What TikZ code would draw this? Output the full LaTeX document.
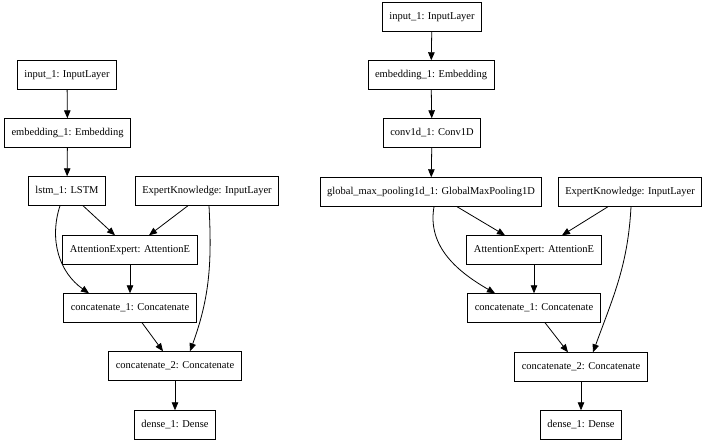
\documentclass[tikz,border=0pt]{standalone}
\usepackage{fontspec}
\setmainfont{Liberation Serif}
\usetikzlibrary{arrows.meta, positioning}

\begin{document}
\begin{tikzpicture}[x=1pt, y=-1pt,
    layer/.style={draw, line width=0.9pt, inner xsep=7pt, inner ysep=0pt, minimum height=28.5pt, font=\fontsize{10.5}{12}\selectfont},
    flow/.style={-{Triangle[length=8pt, width=6.5pt]}, line width=0.8pt}]
    \useasboundingbox (0,0) rectangle (708,443);

    % LSTM model
    \node[layer] (inL)     at (67,75)   {input\_1: InputLayer};
    \node[layer] (embL)    at (67.5,133) {embedding\_1: Embedding};
    \node[layer] (lstmL)   at (67,191)  {lstm\_1: LSTM};
    \node[layer] (expL)    at (207,191) {ExpertKnowledge: InputLayer};
    \node[layer] (attL)    at (130,250) {AttentionExpert: AttentionE};
    \node[layer] (cataL)   at (130,308) {concatenate\_1: Concatenate};
    \node[layer] (catbL)   at (175,366) {concatenate\_2: Concatenate};
    \node[layer] (denseL)  at (175,425) {dense\_1: Dense};

    \draw[flow] (inL) -- (embL);
    \draw[flow] (embL) -- (lstmL);
    \draw[flow] ([xshift=16pt]lstmL.south) -- ([xshift=-15pt]attL.north);
    \draw[flow] ([xshift=-19pt]expL.south) -- ([xshift=19pt]attL.north);
    \draw[flow] ([xshift=-7pt]lstmL.south) to[out=-108, in=145] ([xshift=-41pt]cataL.north);
    \draw[flow] (attL) -- (cataL);
    \draw[flow] ([xshift=12pt]cataL.south) -- ([xshift=-12pt]catbL.north);
    \draw[flow] ([xshift=2pt]expL.south) to[out=-87, in=70] ([xshift=15pt]catbL.north);
    \draw[flow] (catbL) -- (denseL);

    % CNN model
    \node[layer] (inR)     at (432,17)  {input\_1: InputLayer};
    \node[layer] (embR)    at (431,75)  {embedding\_1: Embedding};
    \node[layer] (convR)   at (432,133) {conv1d\_1: Conv1D};
    \node[layer] (poolR)   at (431,192) {global\_max\_pooling1d\_1: GlobalMaxPooling1D};
    \node[layer] (expR)    at (630,192) {ExpertKnowledge: InputLayer};
    \node[layer] (attR)    at (534,250) {AttentionExpert: AttentionE};
    \node[layer] (cataR)   at (534,308) {concatenate\_1: Concatenate};
    \node[layer] (catbR)   at (581,367) {concatenate\_2: Concatenate};
    \node[layer] (denseR)  at (581,425) {dense\_1: Dense};

    \draw[flow] (inR) -- (embR);
    \draw[flow] (embR) -- (convR);
    \draw[flow] (convR) -- (poolR);
    \draw[flow] ([xshift=26pt]poolR.south) -- ([xshift=-29pt]attR.north);
    \draw[flow] ([xshift=-22pt]expR.south) -- ([xshift=28pt]attR.north);
    \draw[flow] ([xshift=3pt]poolR.south) to[out=-100, in=150] ([xshift=-39pt]cataR.north);
    \draw[flow] (attR) -- (cataR);
    \draw[flow] ([xshift=11pt]cataR.south) -- ([xshift=-13pt]catbR.north);
    \draw[flow] ([xshift=1pt]expR.south) to[out=-93, in=70] ([xshift=12pt]catbR.north);
    \draw[flow] (catbR) -- (denseR);
\end{tikzpicture}
\end{document}
